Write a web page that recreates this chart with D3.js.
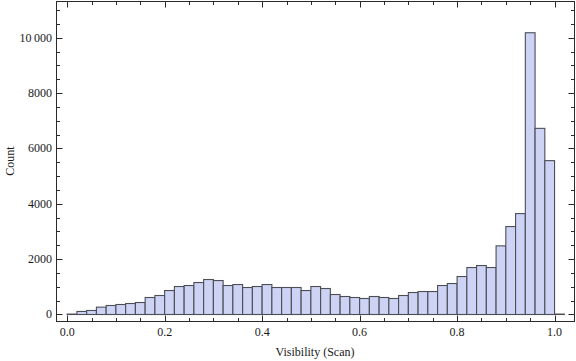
<!DOCTYPE html>
<html><head><meta charset="utf-8">
<script src="https://cdn.jsdelivr.net/npm/d3@7"></script>
<style>body{margin:0;background:#fff}svg{display:block}text{font-family:"Liberation Serif","Times New Roman",serif;fill:#1a1a1a}</style>
</head><body>
<script>
const binStart = 0.0;
const binWidth = 0.02;
const counts = [15,110,145,265,325,361,397,433,614,686,
  866,1011,1047,1155,1264,1227,1047,1083,975,1011,
  1083,975,975,975,866,1011,939,722,650,614,
  578,650,614,578,686,794,830,830,1047,1119,
  1372,1697,1769,1697,2480,3177,3646,10181,6726,5560,15];
const xTickValues = [0,0.2,0.4,0.6,0.8,1.0];
const xTickLabels = ["0.0","0.2","0.4","0.6","0.8","1.0"];
const yTickValues = [0,2000,4000,6000,8000,10000];
const yTickLabels = ["0","2000","4000","6000","8000","10\u2009000"];
const xLabel = "Visibility (Scan)";
const yLabel = "Count";

const W=576,H=361;
const L=56.5,R=574.5,T=1.5,B=321.5;
const svg=d3.select("body").append("svg").attr("width",W).attr("height",H);
const x=d3.scaleLinear().domain([-0.0219,1.0409]).range([L,R]);
const y=d3.scaleLinear().domain([-253,11310]).range([B,T]);

const bins=counts.map((c,i)=>({x0:binStart+i*binWidth,x1:binStart+(i+1)*binWidth,c}));
svg.append("g").selectAll("rect").data(bins).join("rect")
  .attr("x",d=>x(d.x0)).attr("width",d=>x(d.x1)-x(d.x0))
  .attr("y",d=>y(d.c)).attr("height",d=>y(0)-y(d.c))
  .attr("fill","#cdd3f4").attr("stroke","#4d4d55").attr("stroke-width",1.1);

// frame
svg.append("rect").attr("x",L).attr("y",T).attr("width",R-L).attr("height",B-T)
  .attr("fill","none").attr("stroke","#2a2a2a").attr("stroke-width",1);

const g=svg.append("g").attr("stroke","#2a2a2a").attr("stroke-width",1);
// x ticks
const xMinor=d3.range(0,21).map(i=>i*0.05).filter(v=>!xTickValues.some(m=>Math.abs(m-v)<1e-9));
xTickValues.forEach(v=>{const px=Math.round(x(v))+0.5;
  g.append("line").attr("x1",px).attr("x2",px).attr("y1",B).attr("y2",B-6);
  g.append("line").attr("x1",px).attr("x2",px).attr("y1",T).attr("y2",T+6);});
xMinor.forEach(v=>{const px=Math.round(x(v))+0.5;
  g.append("line").attr("x1",px).attr("x2",px).attr("y1",B).attr("y2",B-3.5);
  g.append("line").attr("x1",px).attr("x2",px).attr("y1",T).attr("y2",T+3.5);});
// y ticks
const yMinor=d3.range(0,23).map(i=>i*500).filter(v=>!yTickValues.includes(v)&&y(v)>T);
yTickValues.forEach(v=>{const py=Math.round(y(v))+0.5;
  g.append("line").attr("x1",L).attr("x2",L+6).attr("y1",py).attr("y2",py);
  g.append("line").attr("x1",R).attr("x2",R-6).attr("y1",py).attr("y2",py);});
yMinor.forEach(v=>{const py=Math.round(y(v))+0.5;
  g.append("line").attr("x1",L).attr("x2",L+3.5).attr("y1",py).attr("y2",py);
  g.append("line").attr("x1",R).attr("x2",R-3.5).attr("y1",py).attr("y2",py);});

// labels
xTickValues.forEach((v,i)=>svg.append("text").attr("x",x(v)).attr("y",335.5)
  .attr("text-anchor","middle").attr("font-size",12).text(xTickLabels[i]));
yTickValues.forEach((v,i)=>svg.append("text").attr("x",52).attr("y",y(v)+4)
  .attr("text-anchor","end").attr("font-size",12).text(yTickLabels[i]));
svg.append("text").attr("x",315).attr("y",356).attr("text-anchor","middle")
  .attr("font-size",12).text(xLabel);
svg.append("text").attr("transform","translate(14,161) rotate(-90)")
  .attr("text-anchor","middle").attr("font-size",12).text(yLabel);
</script>
</body></html>
